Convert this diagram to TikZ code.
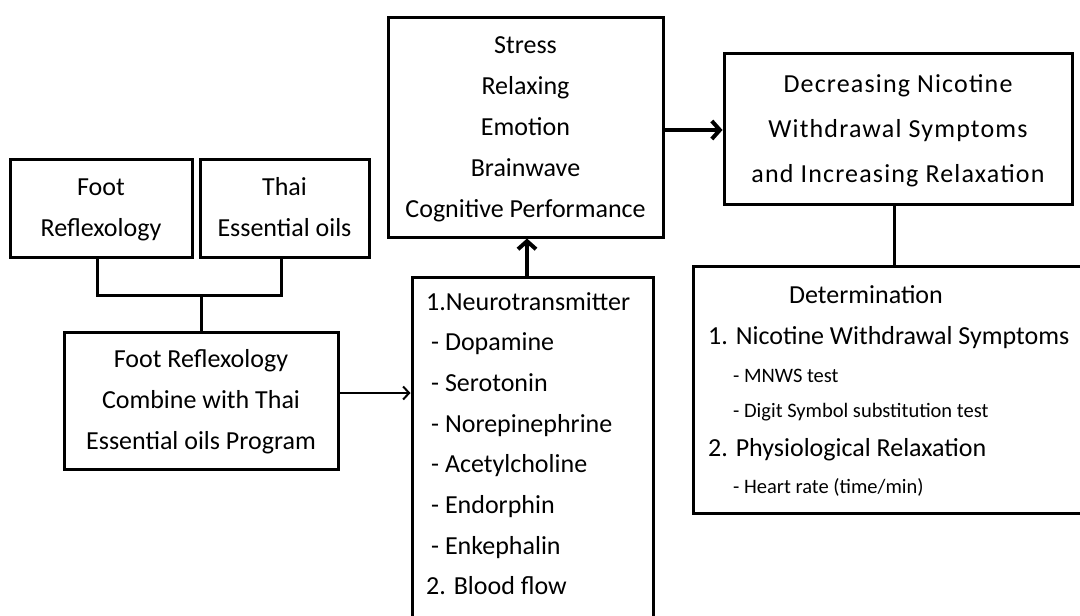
\documentclass[tikz,border=0pt]{standalone}
\usepackage{fontspec}
\setmainfont{Carlito}
\newfontfamily\spacedfont[LetterSpace=4.5]{Carlito}
\usetikzlibrary{arrows.meta}
\newcommand\fA{\fontsize{26}{41}\selectfont}
\newcommand\fS{\fontsize{20.5}{25}\selectfont}
\begin{document}
\begin{tikzpicture}[x=1pt,y=-1pt,
  box/.style={draw, line width=3pt, inner sep=0pt, align=center, font=\fA},
  conn/.style={line width=3pt},
  bigarrow/.style={line width=4pt, -{Straight Barb[length=8pt,width=18pt]}},
  smallarrow/.style={line width=2pt, -{Straight Barb[length=6pt,width=13pt]}},
  txt/.style={inner sep=0pt, anchor=base west, font=\fA},
  stxt/.style={inner sep=0pt, anchor=base west, font=\fS}]
\useasboundingbox (0,0) rectangle (1080,616);
\clip (0,0) rectangle (1080,616);
% boxes
\node[box, minimum width=182pt, minimum height=98pt] (foot) at (101,208) {\strut Foot\\Reflexology\strut};
\node[box, minimum width=169pt, minimum height=98pt] (thai) at (284.5,208) {\strut Thai\\Essential oils\strut};
\node[box, minimum width=274pt, minimum height=137pt] (comb) at (201,400.5) {\strut Foot Reflexology\\Combine with Thai\\Essential oils Program\strut};
\node[box, minimum width=275pt, minimum height=220pt] (stress) at (525.5,127) {\strut Stress\\Relaxing\\Emotion\\Brainwave\\Cognitive Performance\strut};
\node[box, minimum width=241pt, minimum height=363pt] (neuro) at (532.5,458.5) {};
\node[box, minimum width=348pt, minimum height=151pt, font={\spacedfont\fontsize{26}{45}\selectfont}] (dec) at (898,128.5) {\strut Decreasing Nicotine\\Withdrawal Symptoms\\and Increasing Relaxation\strut};
\node[box, minimum width=407pt, minimum height=247pt] (det) at (896.5,389.5) {};
% neuro list
\node[txt] (n1) at (426,310) {1.Neurotransmitter};
\node[txt] (n2) at (431,350.7) {- Dopamine};
\node[txt] (n3) at (431,391.4) {- Serotonin};
\node[txt] (n4) at (431,432.1) {- Norepinephrine};
\node[txt] (n5) at (431,472.8) {- Acetylcholine};
\node[txt] (n6) at (431,513.5) {- Endorphin};
\node[txt] (n7) at (431,554.2) {- Enkephalin};
\node[txt] (n8) at (426,594.9) {2. Blood flow};
% determination list
\node[inner sep=0pt, anchor=base, font=\fA] (d0) at (866,303) {Determination};
\node[txt] (d1) at (708,344) {1. Nicotine Withdrawal Symptoms};
\node[stxt] (d2) at (733,382) {- MNWS test};
\node[stxt] (d3) at (733,417) {- Digit Symbol substitution test};
\node[txt] (d4) at (708,456) {2. Physiological Relaxation};
\node[stxt] (d5) at (733,493) {- Heart rate (time/min)};
% connectors
\coordinate (j) at (201,295);
\draw[conn] ([xshift=-4pt]foot.south) |- ([xshift=-3.5pt]thai.south |- j) -- ([xshift=-3.5pt]thai.south);
\draw[conn] (j) -- (comb.north);
\draw[smallarrow] ([yshift=7.5pt]comb.east) -- ([yshift=7.5pt]comb.east -| neuro.west);
\draw[bigarrow] ([xshift=1.5pt]stress.south |- neuro.north) -- ([xshift=1.5pt]stress.south);
\draw[bigarrow] ([yshift=-3pt]stress.east) -- ([yshift=-3pt]stress.east -| dec.west);
\draw[conn] ([xshift=-4pt]dec.south) -- ([xshift=-4pt]dec.south |- det.north);
\end{tikzpicture}
\end{document}
